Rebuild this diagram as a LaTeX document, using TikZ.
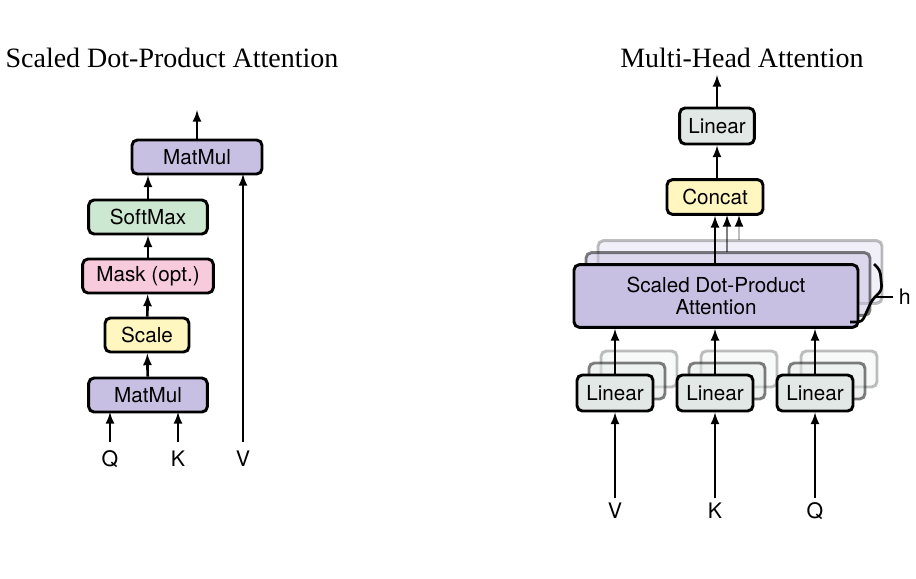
\documentclass[tikz,border=0pt]{standalone}
\usepackage{fontspec}
\setmainfont{TeX Gyre Heros}
\newfontfamily\titlefont{Liberation Serif}
\definecolor{matmulC}{RGB}{200,192,226}
\definecolor{softmaxC}{RGB}{204,232,208}
\definecolor{maskC}{RGB}{247,202,220}
\definecolor{scaleC}{RGB}{255,246,192}
\definecolor{linearC}{RGB}{226,232,230}
\tikzset{every picture/.style={line width=0.75pt}}
\begin{document}
\begin{tikzpicture}[x=0.75pt,y=0.75pt,yscale=-1,xscale=1,
  box/.style={draw,line width=2.2pt,rounded corners=4pt,inner sep=0pt,font=\fontsize{15.5}{17}\selectfont},
  ghost/.style={box,draw opacity=#1,fill opacity=#1},
  arr/.style={-latex,line width=2pt},
  lbl/.style={font=\fontsize{16}{18}\selectfont}]
\useasboundingbox (0,0) rectangle (916,578);

% Scaled Dot-Product Attention
\node [font=\titlefont\fontsize{21}{24}\selectfont] (ttlA) at (172,58) {Scaled Dot-Product Attention};
\node [box,fill=matmulC,minimum width=97.5pt,minimum height=25.5pt] (mm2) at (197,157) {MatMul};
\node [box,fill=softmaxC,minimum width=89pt,minimum height=25.5pt] (sm) at (148,217) {SoftMax};
\node [box,fill=maskC,minimum width=98pt,minimum height=25.5pt] (mask) at (148,276) {Mask (opt.)};
\node [box,fill=scaleC,minimum width=63pt,minimum height=25.5pt] (scale) at (147,335) {Scale};
\node [box,fill=matmulC,minimum width=89pt,minimum height=25.5pt] (mm1) at (148,395) {MatMul};
\node [lbl] (q) at (110,459) {Q};
\node [lbl] (k) at (178,459) {K};
\node [lbl] (v) at (243,459) {V};
\coordinate (outA) at (197,110);
\draw [arr] (110,442) -- (110,412);
\draw [arr] (178,442) -- (178,412);
\draw [arr] (mm1) -- (scale);
\draw [arr] (scale) -- (mask);
\draw [arr] (mask) -- (sm);
\draw [arr] (sm) -- (sm |- mm2.south);
\draw [arr] (243,442) -- (243,174);
\draw [arr] (mm2) -- (outA);

% Multi-Head Attention
\node [font=\titlefont\fontsize{21}{24}\selectfont] (ttlB) at (742,58) {Multi-Head Attention};
\foreach \s/\o in {24/0.25,12/0.5}{
  \node [ghost=\o,fill=matmulC,minimum width=213pt,minimum height=47pt] at (716+\s,296-\s) {};
  \foreach \x in {615,715,815}
    \node [ghost=\o,fill=linearC,minimum width=57pt,minimum height=27pt] at (\x+\s,393-\s) {};
  \draw [-latex,line width=2pt,draw opacity=\o] (715+\s,264-\s) -- (715+\s,215);
}
\node [box,fill=matmulC,minimum width=213pt,minimum height=47pt,align=center] (sdpa) at (716,296) {Scaled Dot-Product\\[-1pt]Attention};
\node [box,fill=linearC,minimum width=57pt,minimum height=27pt] (linV) at (615,393) {Linear};
\node [box,fill=linearC,minimum width=57pt,minimum height=27pt] (linK) at (715,393) {Linear};
\node [box,fill=linearC,minimum width=57pt,minimum height=27pt] (linQ) at (815,393) {Linear};
\node [box,fill=scaleC,minimum width=72pt,minimum height=26pt] (concat) at (715,197) {Concat};
\node [box,fill=linearC,minimum width=56pt,minimum height=27pt] (linO) at (717,126) {Linear};
\node [lbl] (vB) at (615,511) {V};
\node [lbl] (kB) at (715,511) {K};
\node [lbl] (qB) at (815,511) {Q};
\coordinate (outB) at (717,75);
\foreach \n/\l in {vB/linV,kB/linK,qB/linQ}{
  \draw [arr] (\n.north) -- (\l);
  \draw [arr] (\l) -- (\l |- sdpa.south);
}
\draw [arr] (sdpa.north -| concat) -- (concat);
\draw [arr] (concat.north -| linO) -- (linO);
\draw [arr] (linO) -- (outB);
\draw [line width=2pt,rounded corners=3pt] (850,322) -- (862,322) -- (872,300) -- (882,290) -- (880,270) -- (874,264);
\draw [line width=1pt] (875,297) -- (893,297);
\node [lbl,anchor=west] (h) at (894,297) {h};
\end{tikzpicture}
\end{document}
